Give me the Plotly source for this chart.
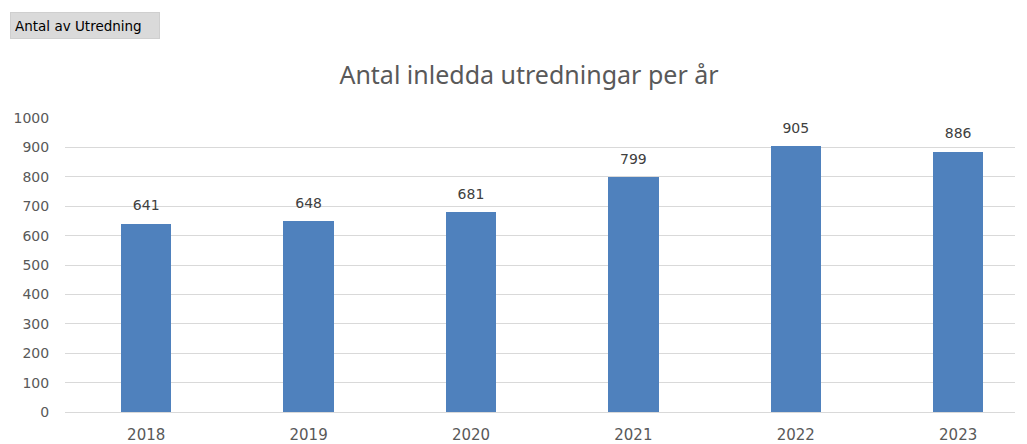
import plotly.graph_objects as go

years = ["2018", "2019", "2020", "2021", "2022", "2023"]
values = [641, 648, 681, 799, 905, 886]
y_ticks = [0, 100, 200, 300, 400, 500, 600, 700, 800, 900, 1000]

# page body has an 8px default margin, so figure is sized to fit the window
W, H = 1019, 436
L, R, T, B = 57, 12, 110, 32
PW, PH = W - L - R, H - T - B

NUM_FONT = "DejaVu Sans"

fig = go.Figure()
fig.add_trace(go.Bar(
    x=years, y=values, width=0.31,
    marker=dict(color="#4f81bd", line=dict(width=0)),
    hoverinfo="x+y",
))
fig.add_trace(go.Scatter(
    x=years, y=values, mode="markers+text",
    marker=dict(size=14, color="rgba(0,0,0,0)"),
    text=[str(v) for v in values], textposition="top center",
    textfont=dict(family=NUM_FONT, size=14, color="#404040"),
    cliponaxis=False, hoverinfo="skip",
))

fig.update_layout(
    width=W, height=H,
    margin=dict(l=L, r=R, t=T, b=B, autoexpand=False),
    plot_bgcolor="white", paper_bgcolor="white",
    showlegend=False,
    title=dict(text="Antal inledda utredningar per år", x=521 / W, xanchor="center",
               xref="container",
               y=1 - 67 / H, yanchor="middle",
               font=dict(family="Noto Sans", size=25, color="#595959")),
    xaxis=dict(type="category", range=[-0.5, 5.35], showgrid=False, zeroline=False,
               showline=False, ticks="outside", ticklen=9, tickcolor="rgba(0,0,0,0)",
               automargin=False,
               tickfont=dict(family=NUM_FONT, size=15, color="#595959")),
    yaxis=dict(range=[0, 1000], tickvals=y_ticks, showgrid=True, gridcolor="#d9d9d9",
               gridwidth=1, zeroline=True, zerolinecolor="#d9d9d9", zerolinewidth=1,
               ticks="outside", ticklen=12, tickcolor="rgba(0,0,0,0)",
               automargin=False,
               tickfont=dict(family=NUM_FONT, size=14, color="#595959")),
    bargap=0,
)

fig.add_annotation(
    text="Antal av Utredning", xref="paper", yref="paper",
    x=(2 - L) / PW, y=1 + (T - 4) / PH, xanchor="left", yanchor="top",
    width=140, height=17, align="left",
    showarrow=False, bgcolor="#dadada", bordercolor="#cfcfcf", borderwidth=1, borderpad=4,
    font=dict(family="DejaVu Sans", size=13.5, color="#000000"),
)

fig.write_html("out.html")
